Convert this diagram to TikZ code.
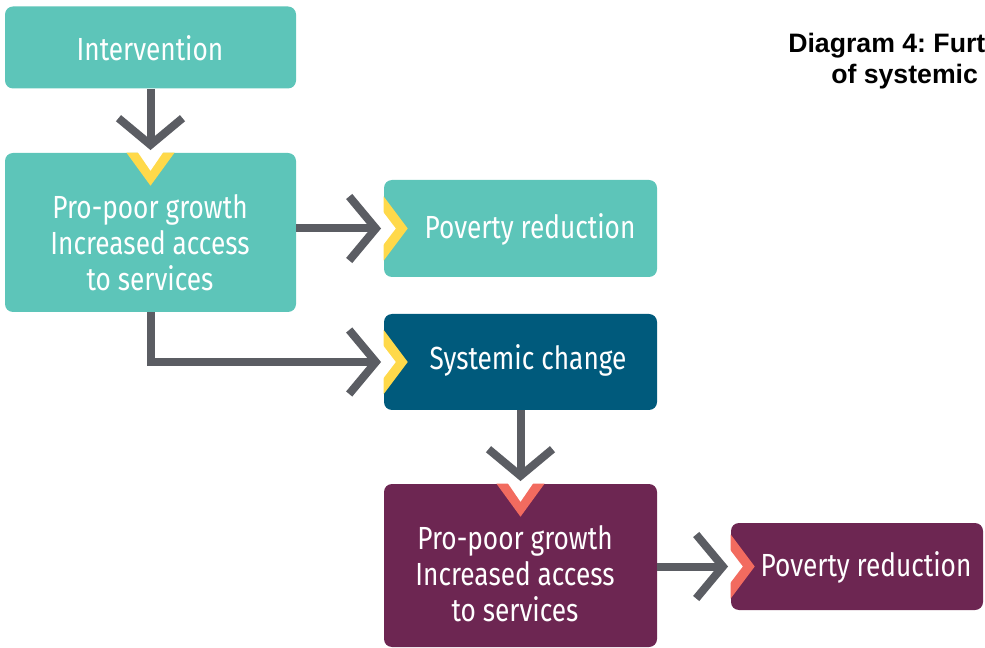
\documentclass[tikz,border=0pt]{standalone}
\usepackage{fontspec}
\usepackage{tikz}
\usepackage{xcolor}
\usetikzlibrary{arrows.meta, positioning}

\newfontfamily\boxfont[FakeStretch=0.82]{Fira Sans}
\newfontfamily\titlefont{Liberation Sans}
\frenchspacing

\definecolor{teal}{HTML}{5DC5B9}
\definecolor{deepblue}{HTML}{005A7C}
\definecolor{plum}{HTML}{6D2652}
\definecolor{arrowgray}{HTML}{5B5D63}
\definecolor{notchyellow}{HTML}{FFD94A}
\definecolor{notchpink}{HTML}{F26B5F}

% notch on the top edge of a box
\newcommand{\notchtop}[2]{%
  \fill[#2, shift={(#1)}] (-24,0) -- (0,33) -- (24,0) -- cycle;
  \fill[white, shift={(#1)}] (-13,-1) -- (0,18) -- (13,-1) -- cycle;
}
% notch on the left edge of a box
\newcommand{\notchleft}[2]{%
  \fill[#2, shift={(#1)}] (0,-32) -- (24,0) -- (0,32) -- cycle;
  \fill[white, shift={(#1)}] (-1,-17) -- (12,0) -- (-1,17) -- cycle;
}

\begin{document}
\begin{tikzpicture}[x=0.75pt, y=-0.75pt,
    box/.style={rectangle, rounded corners=6pt, inner sep=0pt},
    boxtext/.style={text=white, align=center, font=\boxfont\fontsize{24}{27}\selectfont},
    flow/.style={arrowgray, line width=6pt, shorten >=2pt,
      -{Straight Barb[length=20pt, width=48pt, line join=miter]}}]
  \useasboundingbox (0,0) rectangle (985,648);

  \node[box, fill=teal, minimum width=218.25pt, minimum height=61.5pt] (intv) at (150.5,47.5) {};
  \node[box, fill=teal, minimum width=218.25pt, minimum height=119.25pt] (grow1) at (150.5,232.5) {};
  \node[box, fill=teal, minimum width=204.75pt, minimum height=72.75pt] (pov1) at (520.5,228.5) {};
  \node[box, fill=deepblue, minimum width=204.75pt, minimum height=72pt] (sys) at (520.5,362) {};
  \node[box, fill=plum, minimum width=204.75pt, minimum height=122.25pt] (grow2) at (520.5,565.5) {};
  \node[box, fill=plum, minimum width=189pt, minimum height=65.25pt] (pov2) at (857,566.5) {};

  \notchtop{grow1.north}{notchyellow}
  \notchleft{pov1.west}{notchyellow}
  \notchleft{sys.west}{notchyellow}
  \notchtop{grow2.north}{notchpink}
  \notchleft{pov2.west}{notchpink}

  \node[boxtext] (intv-txt) at (150,48) {Intervention};
  \node[boxtext] (grow1-txt) at (150,243) {Pro-poor growth\\Increased access\\to services};
  \node[boxtext] (pov1-txt) at (530,229) {Poverty reduction};
  \node[boxtext] (sys-txt) at (528,360) {Systemic change};
  \node[boxtext] (grow2-txt) at (515,574) {Pro-poor growth\\Increased access\\to services};
  \node[boxtext] (pov2-txt) at (866,567) {Poverty reduction};

  \node[anchor=base west, inner sep=0pt, font=\titlefont\bfseries\fontsize{20}{24}\selectfont] (title1) at (788,53) {Diagram 4: Furt};
  \node[anchor=base west, inner sep=0pt, font=\titlefont\bfseries\fontsize{20}{24}\selectfont] (title2) at (831,84) {of systemic};

  \draw[flow] (intv.south) -- (grow1.north);
  \draw[flow] (grow1.east |- pov1.west) -- (pov1.west);
  \draw[flow] (grow1.south) |- (sys.west);
  \draw[flow] (sys.south) -- (grow2.north);
  \draw[flow] (grow2.east |- pov2.west) -- (pov2.west);
\end{tikzpicture}
\end{document}
